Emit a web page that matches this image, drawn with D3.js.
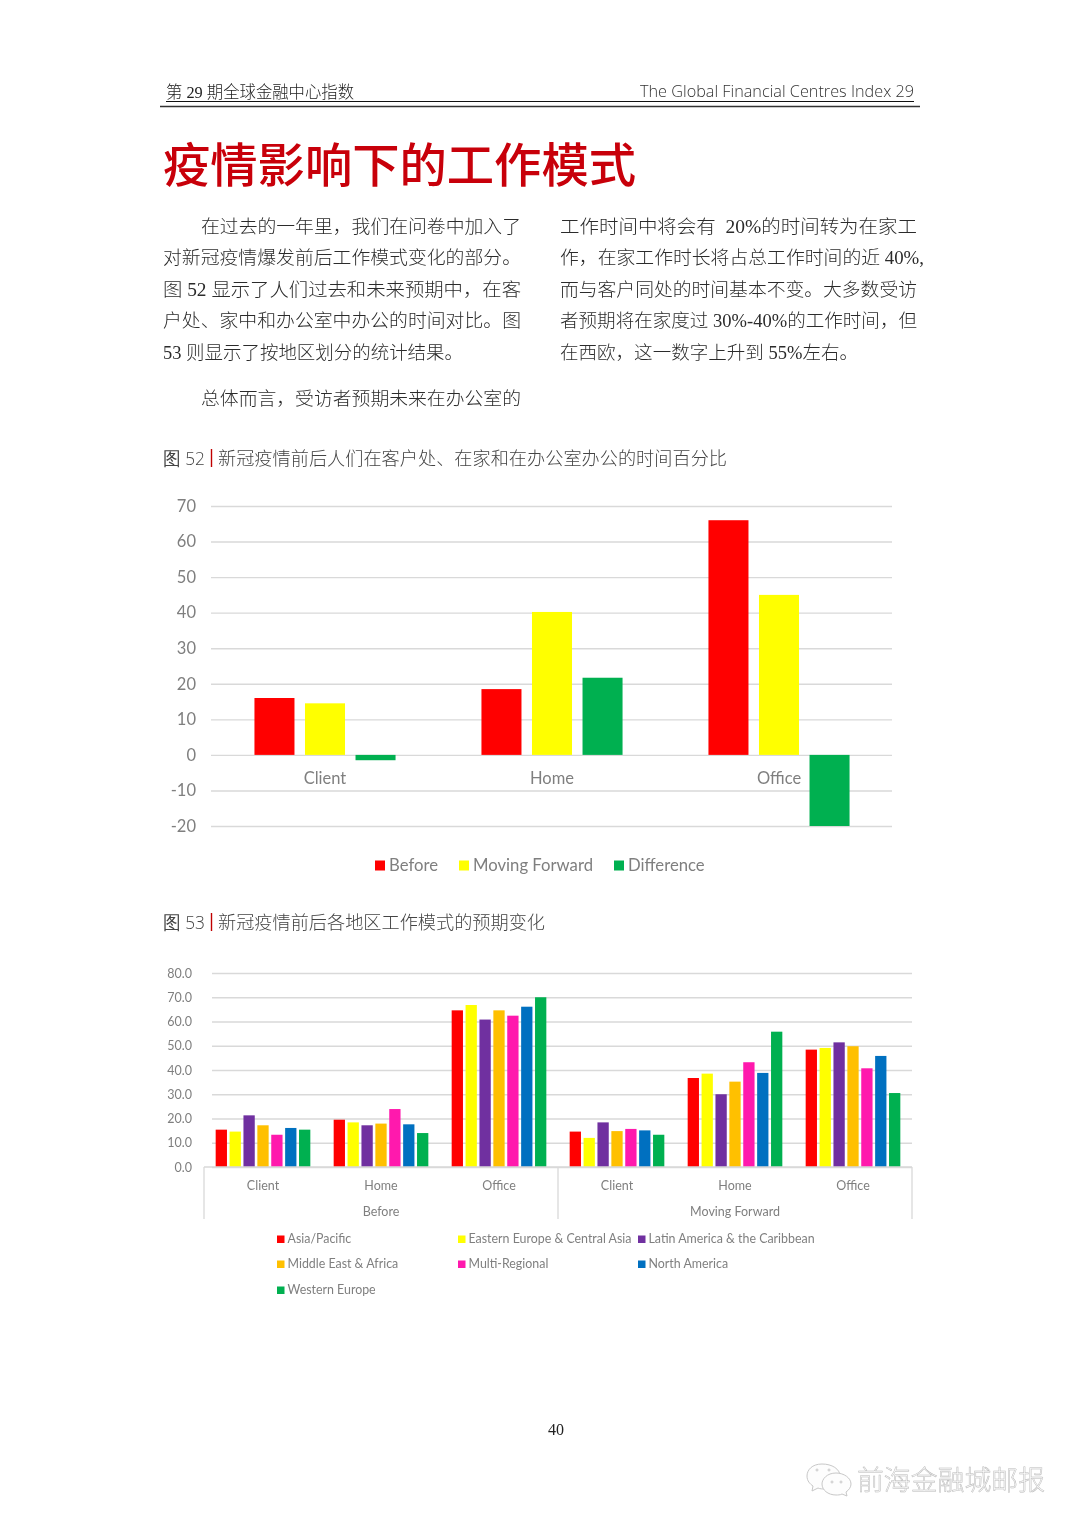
<!DOCTYPE html>
<html>
<head>
<meta charset="utf-8">
<script src="https://cdn.jsdelivr.net/npm/d3@7"></script>
<style>
  html, body { margin: 0; padding: 0; background: #fff; }
  svg { display: block; filter: blur(0.35px); }
</style>
</head>
<body>
<div id="svg-area"></div>
<script>
// chart 52 data
const cats52 = ["Client", "Home", "Office"]
const series52 = ["Before", "Moving Forward", "Difference"]
const before52 = [16, 18.5, 66]
const forward52 = [14.5, 40.2, 45]
const diff52 = [-1.5, 21.7, -20]
const ticks52 = [70, 60, 50, 40, 30, 20, 10, 0, -10, -20]
const colors52 = ["#ff0000", "#ffff00", "#00b050"]

// chart 53 data
const groups53 = ["Before", "Moving Forward"]
const cats53 = ["Client", "Home", "Office"]
const regions53 = ["Asia/Pacific", "Eastern Europe & Central Asia", "Latin America & the Caribbean",
  "Middle East & Africa", "Multi-Regional", "North America", "Western Europe"]
const beforeClient = [15.4, 14.6, 21.3, 17.2, 13.3, 16.1, 15.4]
const beforeHome = [19.5, 18.4, 17.2, 17.9, 23.9, 17.6, 14.0]
const beforeOffice = [64.6, 66.8, 60.8, 64.6, 62.4, 66.1, 70.0]
const forwardClient = [14.6, 12.0, 18.4, 14.8, 15.7, 15.1, 13.3]
const forwardHome = [36.7, 38.5, 30.0, 35.2, 43.2, 38.8, 55.8]
const forwardOffice = [48.4, 49.1, 51.4, 49.8, 40.7, 45.8, 30.5]
const ticks53 = [0, 10, 20, 30, 40, 50, 60, 70, 80]
const colors53 = ["#ff0000", "#ffff00", "#7030a0", "#ffc000", "#ff19ad", "#0070c0", "#00b050"]

// page text
const leftLines = [
  ["在过去的一年里，我们在问卷中加入了", 201, 226, 320],
  ["对新冠疫情爆发前后工作模式变化的部分。", 163, 257, 358],
  ["图 52 显示了人们过去和未来预期中，在客", 163, 289, 358],
  ["户处、家中和办公室中办公的时间对比。图", 163, 320, 358],
  ["53 则显示了按地区划分的统计结果。", 163, 352, 300],
  ["总体而言，受访者预期未来在办公室的", 201, 398, 320]
]
const rightLines = [
  ["工作时间中将会有  20%的时间转为在家工", 560, 226, 357],
  ["作，在家工作时长将占总工作时间的近 40%,", 560, 257, 364],
  ["而与客户同处的时间基本不变。大多数受访", 560, 289, 357],
  ["者预期将在家度过 30%-40%的工作时间，但", 560, 320, 357],
  ["在西欧，这一数字上升到 55%左右。", 560, 352, 298]
]

const serifFont = "'Liberation Serif', 'Noto Sans CJK SC', serif"
const cjkFont = "'Noto Sans CJK SC', sans-serif"
const chartFont = "Lato, 'Open Sans', sans-serif"
const grey = "#7f7f7f"

const svgWidth = 1080
const svgHeight = 1527

let svg = d3.select("#svg-area").append("svg")
  .attr("width", svgWidth)
  .attr("height", svgHeight)

svg.append("rect").attr("width", svgWidth).attr("height", svgHeight).attr("fill", "#fff")

// small helper so all the page text goes on by its vertical middle
function label(txt, x, y, size, opts) {
  opts = opts || {}
  let t = svg.append("text")
    .attr("x", x)
    .attr("y", y)
    .attr("dy", "0.36em")
    .attr("font-size", size)
    .attr("font-family", opts.font || cjkFont)
    .attr("font-weight", opts.weight || 300)
    .attr("fill", opts.fill || "#333")
    .attr("text-anchor", opts.anchor || "start")
    .attr("xml:space", "preserve")
    .text(txt)
  if (opts.len) t.attr("textLength", opts.len).attr("lengthAdjust", "spacingAndGlyphs")
  return t
}

// header
label("第 29 期全球金融中心指数", 166, 92, 17, {font: serifFont, len: 188, fill: "#222"})
label("The Global Financial Centres Index 29", 640, 91, 17, {font: "'Open Sans', sans-serif", len: 274, fill: "#333"})
svg.append("line").attr("x1", 166).attr("x2", 914).attr("y1", 101.5).attr("y2", 101.5).attr("stroke", "#111")
svg.append("line").attr("x1", 160).attr("x2", 920).attr("y1", 106.5).attr("y2", 106.5).attr("stroke", "#333").attr("stroke-width", 1.5)

// title
label("疫情影响下的工作模式", 163, 165, 47, {weight: 500, fill: "#c8000a", len: 473})

// body
leftLines.concat(rightLines).forEach(l => {
  label(l[0], l[1], l[2], 18.6, {font: serifFont, len: l[3], fill: "#2b2b2b"})
})

// figure captions
function caption(num, txt, y, len) {
  label(num, 163, y, 18.5, {font: "'Open Sans', sans-serif", len: 42, fill: "#444"})
  svg.append("line").attr("x1", 211.5).attr("x2", 211.5).attr("y1", y - 9).attr("y2", y + 9).attr("stroke", "#c00000").attr("stroke-width", 1.4)
  label(txt, 218, y, 18.5, {len: len, fill: "#444"})
}
caption("图 52", "新冠疫情前后人们在客户处、在家和在办公室办公的时间百分比", 458, 509)
caption("图 53", "新冠疫情前后各地区工作模式的预期变化", 922, 327)

// ---- figure 52 ----
let y52 = d3.scaleLinear().domain([-20, 70]).range([826, 506])
let x52 = d3.scaleBand().domain(cats52).range([211.5, 892.5])
let inner52 = d3.scaleBand().domain(series52).range([0, x52.bandwidth()])
  .paddingInner(0.208).paddingOuter(0.85)

let axis52 = svg.append("g")
  .attr("transform", "translate(211,0)")
  .call(d3.axisLeft(y52).tickValues(ticks52).tickFormat(d => String(d)).tickSize(-681).tickPadding(15))
axis52.select(".domain").remove()
axis52.selectAll("line").attr("stroke", "#d9d9d9").attr("stroke-width", 1.4)
axis52.selectAll("text").attr("font-size", 16.5).attr("font-family", chartFont).attr("fill", grey)

const rows52 = [before52, forward52, diff52]
rows52.forEach((vals, s) => {
  svg.append("g").selectAll("rect")
    .data(vals)
    .enter()
    .append("rect")
    .attr("x", (d, i) => x52(cats52[i]) + inner52(series52[s]))
    .attr("y", d => y52(Math.max(0, d)))
    .attr("width", inner52.bandwidth())
    .attr("height", d => Math.abs(y52(d) - y52(0)))
    .attr("fill", colors52[s])
})

cats52.forEach(c => {
  label(c, x52(c) + x52.bandwidth() / 2, 778, 16.5, {font: chartFont, weight: 400, fill: grey, anchor: "middle"})
})

// legend 52
const legendX52 = [375, 459, 614]
series52.forEach((s, i) => {
  svg.append("rect").attr("x", legendX52[i]).attr("y", 860.5).attr("width", 10).attr("height", 10).attr("fill", colors52[i])
  label(s, legendX52[i] + 14, 865, 16.7, {font: chartFont, weight: 400, fill: grey})
})

// ---- figure 53 ----
const cols53 = [beforeClient, beforeHome, beforeOffice, forwardClient, forwardHome, forwardOffice]
const slots53 = d3.range(cols53.length)

let y53 = d3.scaleLinear().domain([0, 80]).range([1167, 973])
let x53 = d3.scaleBand().domain(slots53).range([204, 912])
let inner53 = d3.scaleBand().domain(d3.range(regions53.length)).range([0, x53.bandwidth()])
  .paddingInner(0.187).paddingOuter(0.84)

let axis53 = svg.append("g")
  .attr("transform", "translate(212,0)")
  .call(d3.axisLeft(y53).tickValues(ticks53).tickFormat(d3.format(".1f")).tickSize(-700).tickPadding(20))
axis53.select(".domain").remove()
axis53.selectAll("line").attr("stroke", "#d9d9d9").attr("stroke-width", 1.3)
axis53.selectAll("text").attr("font-size", 12.5).attr("font-family", chartFont).attr("fill", grey)

cols53.forEach((vals, c) => {
  svg.append("g").selectAll("rect")
    .data(vals)
    .enter()
    .append("rect")
    .attr("x", (d, i) => x53(c) + inner53(i))
    .attr("y", d => y53(d))
    .attr("width", inner53.bandwidth())
    .attr("height", d => y53(0) - y53(d))
    .attr("fill", (d, i) => colors53[i])
})

// two level category axis
svg.append("line").attr("x1", 204).attr("x2", 912).attr("y1", y53(0)).attr("y2", y53(0)).attr("stroke", "#d9d9d9").attr("stroke-width", 1.3)
;[0, 3, 6].forEach(k => {
  let xv = k < 6 ? x53(k) : 912
  svg.append("line").attr("x1", xv).attr("x2", xv).attr("y1", y53(0)).attr("y2", 1219).attr("stroke", "#d9d9d9").attr("stroke-width", 1.3)
})
slots53.forEach(k => {
  label(cats53[k % 3], x53(k) + x53.bandwidth() / 2, 1185, 12.5, {font: chartFont, weight: 400, fill: grey, anchor: "middle"})
})
groups53.forEach((g, i) => {
  label(g, x53(i * 3) + x53.bandwidth() * 1.5, 1211, 12.5, {font: chartFont, weight: 400, fill: grey, anchor: "middle"})
})

// legend 53
const legendX53 = [277, 458, 638]
const legendY53 = [1239, 1264, 1290]
regions53.forEach((r, i) => {
  let lx = legendX53[i % 3]
  let ly = legendY53[Math.floor(i / 3)]
  svg.append("rect").attr("x", lx).attr("y", ly - 3.5).attr("width", 7.5).attr("height", 7.5).attr("fill", colors53[i])
  label(r, lx + 10.5, ly, 12.4, {font: chartFont, weight: 400, fill: grey})
})

// page number
label("40", 556, 1429, 16, {font: serifFont, weight: 400, fill: "#222", anchor: "middle"})

// watermark
let mark = svg.append("g").attr("fill", "#fdfdfd").attr("stroke", "#c8c8c8").attr("stroke-width", 1)
mark.append("path").attr("d", "M 822 1464 C 812 1464 807 1470 807 1476 C 807 1481 810 1484 813 1486 L 812 1491 L 818 1488 C 820 1489 823 1489 826 1489 C 836 1489 840 1482 840 1476 C 840 1469 832 1464 822 1464 Z")
mark.append("path").attr("d", "M 836 1473 C 827 1473 822 1479 822 1484 C 822 1490 828 1495 836 1495 C 838 1495 840 1495 842 1494 L 847 1496 L 846 1492 C 849 1490 851 1487 851 1484 C 851 1478 844 1473 836 1473 Z")
;[[817, 1470], [829, 1470], [832, 1482], [841, 1482]].forEach(p => {
  mark.append("circle").attr("cx", p[0]).attr("cy", p[1]).attr("r", 1)
})
label("前海金融城邮报", 857, 1480, 27, {fill: "#fcfcfc", len: 188, weight: 300})
  .attr("stroke", "#b8b8b8").attr("stroke-width", 0.5)
</script>
</body>
</html>
